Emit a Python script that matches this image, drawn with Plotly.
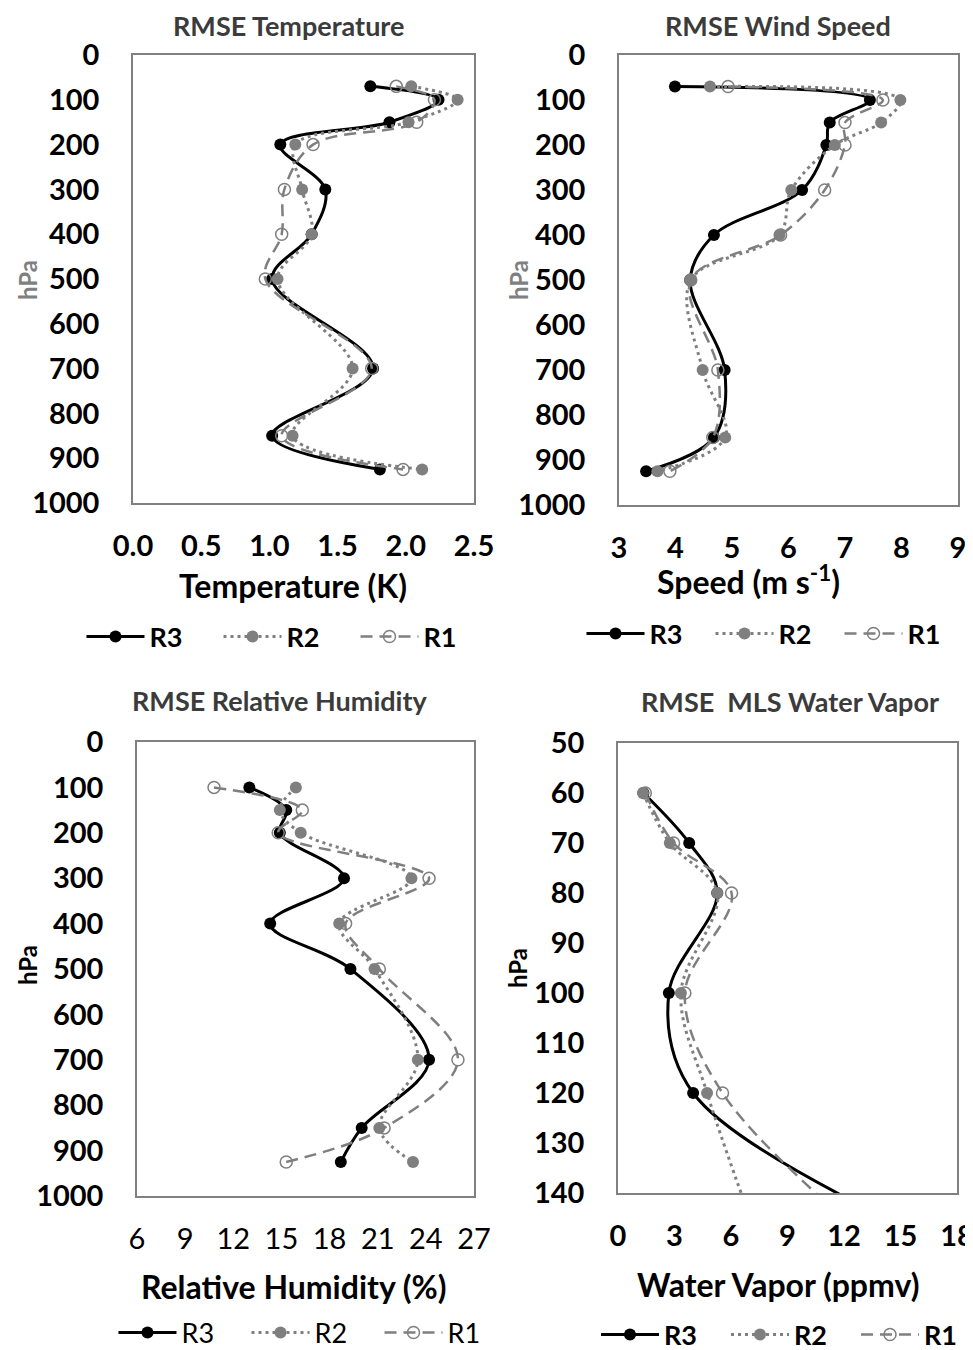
import plotly.graph_objects as go

# The page body has an 8px margin, so the figure is sized to fill the rest of
# the 973x1350 window and reference pixel positions are shifted by that offset.
OFF = 8
W, H = 973 - OFF, 1350 - OFF
FONT = "Lato"
GRAY = "#7f7f7f"

# ---------------- data ----------------
lev_t = [70, 100, 150, 200, 300, 400, 500, 700, 850, 925]
temp_r3 = [1.74, 2.24, 1.88, 1.08, 1.41, 1.31, 1.02, 1.76, 1.02, 1.81]
temp_r2 = [2.04, 2.38, 2.02, 1.19, 1.24, 1.31, 1.06, 1.61, 1.17, 2.12]
temp_r1 = [1.93, 2.21, 2.08, 1.32, 1.11, 1.09, 0.97, 1.75, 1.09, 1.98]

lev_w = [70, 100, 150, 200, 300, 400, 500, 700, 850, 925]
wind_r3 = [3.99, 7.44, 6.73, 6.67, 6.24, 4.68, 4.26, 4.87, 4.68, 3.48]
wind_r2 = [4.61, 7.98, 7.64, 6.82, 6.05, 5.84, 4.27, 4.48, 4.88, 3.68]
wind_r1 = [4.93, 7.67, 7.00, 7.00, 6.64, 5.86, 4.27, 4.75, 4.66, 3.90]

lev_rh = [100, 150, 200, 300, 400, 500, 700, 850, 925]
rh_r3 = [13.0, 15.3, 14.9, 18.9, 14.3, 19.3, 24.2, 20.0, 18.7]
rh_r2 = [15.9, 14.9, 16.2, 23.1, 18.6, 20.8, 23.5, 21.1, 23.2]
rh_r1 = [10.8, 16.3, 14.8, 24.2, 19.0, 21.1, 26.0, 21.4, 15.3]

lev_wv = [60, 70, 80, 100, 120, 150]
wv_r3 = [1.35, 3.78, 5.27, 2.70, 3.99, 17.0]
wv_r2 = [1.33, 2.75, 5.27, 3.34, 4.73, 7.5]
wv_r1 = [1.45, 2.95, 6.03, 3.55, 5.55, 13.5]

series_names = ["R3", "R2", "R1"]

# ---------------- layout helpers ----------------
def px_x(p):
    return (p - OFF) / W

def px_y(p):
    return 1 - (p - OFF) / H

panels = [
    # (x0, x1, y_top, y_bottom) in reference pixels
    (133, 474, 55, 503),
    (619, 958, 55, 505),
    (137, 474, 742, 1196),
    (618, 957, 743, 1193),
]

styles = [
    dict(line=dict(color="black", width=3), marker=dict(symbol="circle", size=12, color="black")),
    dict(line=dict(color=GRAY, width=3, dash="3px,4px"), marker=dict(symbol="circle", size=12, color=GRAY)),
    dict(line=dict(color=GRAY, width=2.5, dash="12px,7px"),
         marker=dict(symbol="circle-open", size=12, color=GRAY, line=dict(width=1.5, color=GRAY))),
]

fig = go.Figure()

datasets = [
    (lev_t, [temp_r3, temp_r2, temp_r1]),
    (lev_w, [wind_r3, wind_r2, wind_r1]),
    (lev_rh, [rh_r3, rh_r2, rh_r1]),
    (lev_wv, [wv_r3, wv_r2, wv_r1]),
]

for i, (levs, vals) in enumerate(datasets):
    ax = "" if i == 0 else str(i + 1)
    for name, v, st in zip(series_names, vals, styles):
        fig.add_trace(go.Scatter(
            x=v, y=levs, name=name, mode="lines+markers",
            line=dict(shape="spline", smoothing=1.0, **st["line"]),
            marker=st["marker"],
            xaxis="x" + ax, yaxis="y" + ax,
            legend="legend" + ax, cliponaxis=True,
        ))

bold = dict(family=FONT, size=29, color="black", weight="bold")
regular = dict(family=FONT, size=29, color="black", weight="normal")

xranges = [[0, 2.5], [3, 9], [6, 27], [0, 18]]
xdticks = [0.5, 1, 3, 3]
xfmts = [".1f", "d", "d", "d"]
yranges = [[1000, 0], [1000, 0], [1000, 0], [140, 50]]
ydticks = [100, 100, 100, 10]
xtickfonts = [bold, bold, regular, bold]

layout = dict(
    width=W, height=H,
    margin=dict(l=0, r=0, t=0, b=0, pad=0, autoexpand=False),
    paper_bgcolor="white", plot_bgcolor="white",
    showlegend=True,
)

for i, (x0, x1, yt, yb) in enumerate(panels):
    ax = "" if i == 0 else str(i + 1)
    layout["xaxis" + ax] = dict(
        domain=[px_x(x0), px_x(x1)], range=xranges[i], dtick=xdticks[i], tick0=xranges[i][0],
        tickformat=xfmts[i], showgrid=False, zeroline=False,
        showline=True, mirror=True, linecolor="#808080", linewidth=1.5,
        ticks="", tickfont=xtickfonts[i], ticklabelstandoff=16, ticklabeloverflow="allow",
        anchor="y" + ax, fixedrange=True, automargin=False,
    )
    layout["yaxis" + ax] = dict(
        domain=[px_y(yb), px_y(yt)], range=yranges[i], dtick=ydticks[i],
        showgrid=False, zeroline=False,
        showline=True, mirror=True, linecolor="#808080", linewidth=1.5,
        ticks="", tickfont=bold, ticklabelstandoff=26, ticklabeloverflow="allow",
        anchor="x" + ax, fixedrange=True, automargin=False,
    )

# legends: (center x, center y, weight, entry width)
legend_pos = [(287, 637, "bold", 64), (775, 634, "bold", 56),
              (313, 1333, "normal", 60), (791, 1335, "bold", 57)]
for i, (cx, cy, wgt, ew) in enumerate(legend_pos):
    key = "legend" if i == 0 else "legend" + str(i + 1)
    layout[key] = dict(
        orientation="h", x=px_x(cx), y=px_y(cy), xanchor="center", yanchor="middle",
        font=dict(family=FONT, size=27, color="black", weight=wgt),
        bgcolor="rgba(0,0,0,0)", itemwidth=58,
        entrywidth=ew, entrywidthmode="pixels", tracegroupgap=0,
    )

fig.update_layout(**layout)

title_font = dict(family=FONT, size=27, color="#3b3b3b", weight="bold")
axis_title_font = dict(family=FONT, size=32, color="black", weight="bold")
annotations = [
    ("RMSE Temperature", 288, 25, title_font, 0),
    ("RMSE Wind Speed", 778, 25, title_font, 0),
    ("RMSE Relative Humidity", 280, 700, title_font, 0),
    ("RMSE  MLS Water Vapor", 790, 701, title_font, 0),
    ("Temperature (K)", 293, 585, axis_title_font, 0),
    ("Speed (m s<sup>-1</sup>)", 748, 580, axis_title_font, 0),
    ("Relative Humidity (%)", 294, 1286, axis_title_font, 0),
    ("Water Vapor (ppmv)", 778, 1284, axis_title_font, 0),
    ("hPa", 27, 280, dict(family=FONT, size=24, color=GRAY, weight="bold"), -90),
    ("hPa", 518, 280, dict(family=FONT, size=24, color=GRAY, weight="bold"), -90),
    ("hPa", 27, 965, dict(family=FONT, size=24, color="black", weight="bold"), -90),
    ("hPa", 517, 968, dict(family=FONT, size=24, color="black", weight="bold"), -90),
]
for text, x, y, f, ang in annotations:
    fig.add_annotation(text=text, x=px_x(x), y=px_y(y), xref="paper", yref="paper",
                       xanchor="center", yanchor="middle", showarrow=False,
                       font=f, textangle=ang)

fig.write_html("out.html")
